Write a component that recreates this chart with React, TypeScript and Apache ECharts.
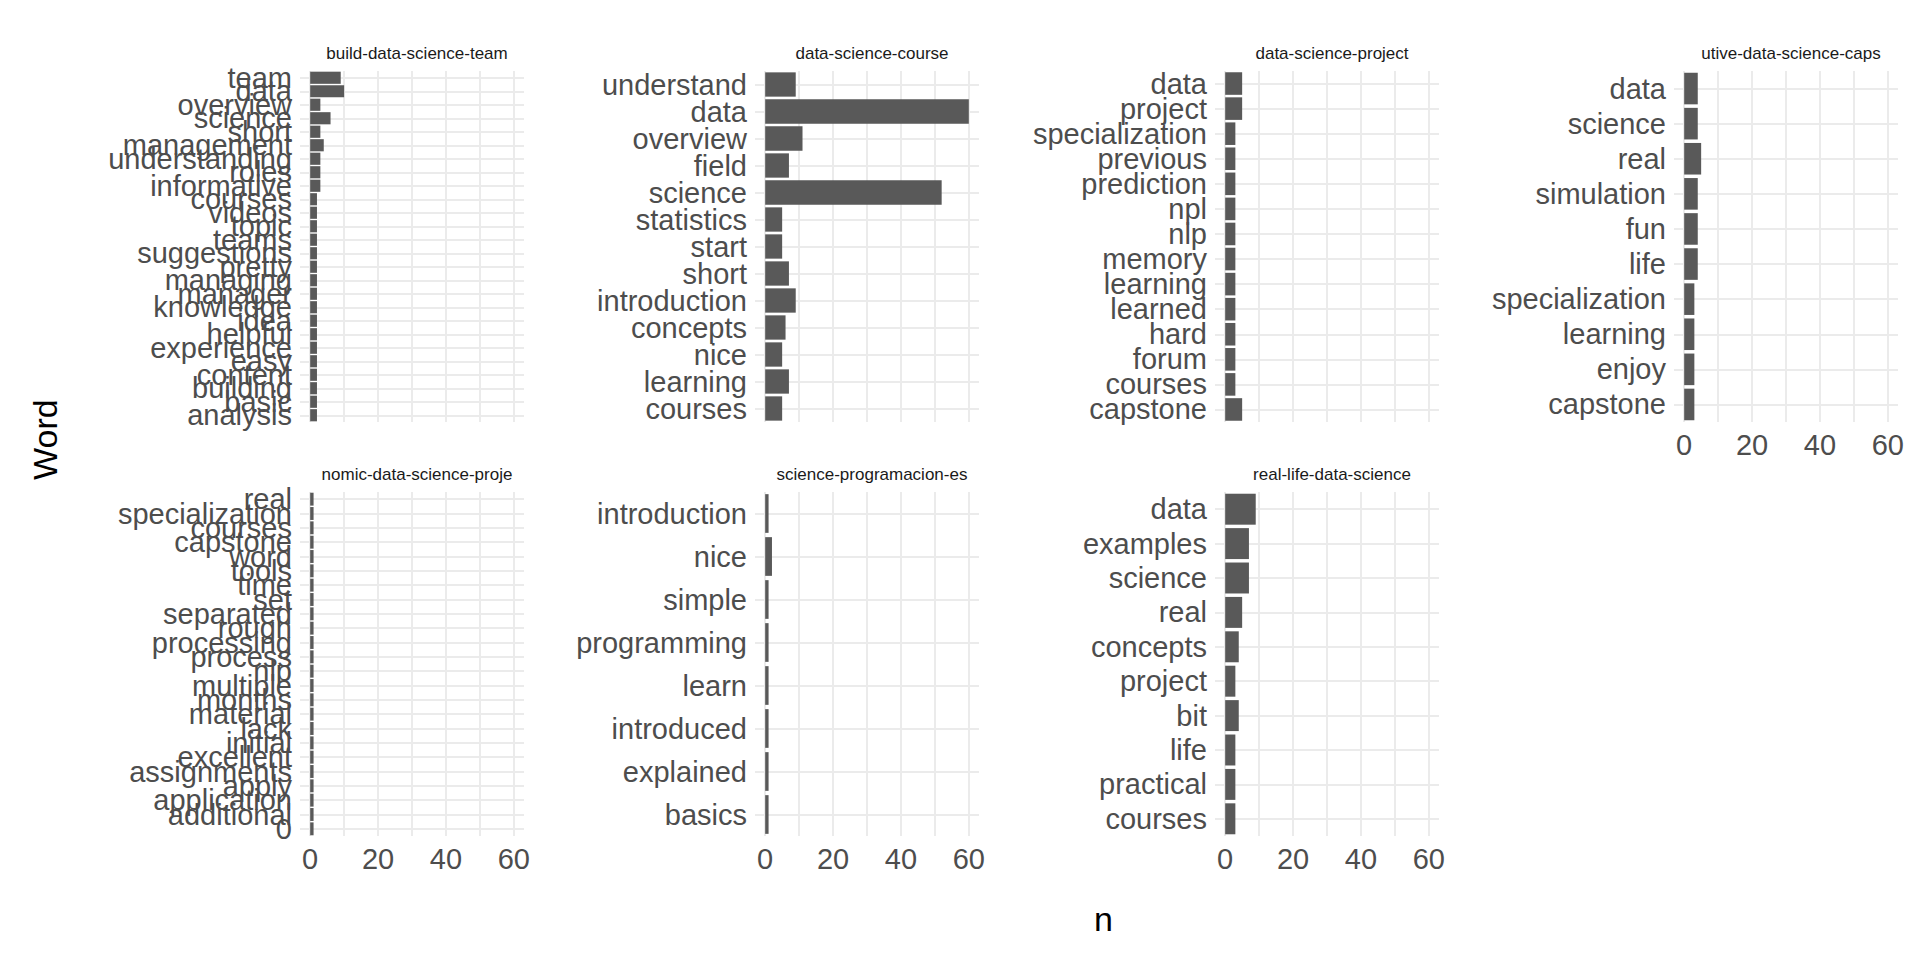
import { useEffect, useRef } from 'react';
import * as echarts from 'echarts';

const panelTitles = [
  'build-data-science-team',
  'data-science-course',
  'data-science-project',
  'utive-data-science-caps',
  'nomic-data-science-proje',
  'science-programacion-es',
  'real-life-data-science',
];

const words1 = ['team', 'data', 'overview', 'science', 'short', 'management', 'understanding', 'roles', 'informative', 'courses', 'videos', 'topic', 'teams', 'suggestions', 'pretty', 'managing', 'manager', 'knowledge', 'idea', 'helpful', 'experience', 'easy', 'content', 'building', 'basic', 'analysis'];
const counts1 = [9, 10, 3, 6, 3, 4, 3, 3, 3, 2, 2, 2, 2, 2, 2, 2, 2, 2, 2, 2, 2, 2, 2, 2, 2, 2];

const words2 = ['understand', 'data', 'overview', 'field', 'science', 'statistics', 'start', 'short', 'introduction', 'concepts', 'nice', 'learning', 'courses'];
const counts2 = [9, 60, 11, 7, 52, 5, 5, 7, 9, 6, 5, 7, 5];

const words3 = ['data', 'project', 'specialization', 'previous', 'prediction', 'npl', 'nlp', 'memory', 'learning', 'learned', 'hard', 'forum', 'courses', 'capstone'];
const counts3 = [5, 5, 3, 3, 3, 3, 3, 3, 3, 3, 3, 3, 3, 5];

const words4 = ['data', 'science', 'real', 'simulation', 'fun', 'life', 'specialization', 'learning', 'enjoy', 'capstone'];
const counts4 = [4, 4, 5, 4, 4, 4, 3, 3, 3, 3];

const words5 = ['real', 'specialization', 'courses', 'capstone', 'word', 'tools', 'time', 'set', 'separated', 'rough', 'processing', 'process', 'nlp', 'multiple', 'months', 'material', 'lack', 'initial', 'excellent', 'assignments', 'apply', 'application', 'additional', '0'];
const counts5 = [1, 1, 1, 1, 1, 1, 1, 1, 1, 1, 1, 1, 1, 1, 1, 1, 1, 1, 1, 1, 1, 1, 1, 1];

const words6 = ['introduction', 'nice', 'simple', 'programming', 'learn', 'introduced', 'explained', 'basics'];
const counts6 = [1, 2, 1, 1, 1, 1, 1, 1];

const words7 = ['data', 'examples', 'science', 'real', 'concepts', 'project', 'bit', 'life', 'practical', 'courses'];
const counts7 = [9, 7, 7, 5, 4, 3, 4, 3, 3, 3];

const xTicks = [0, 10, 20, 30, 40, 50, 60];
const xLabels = [0, 20, 40, 60];

const panels = [
  [words1, counts1], [words2, counts2], [words3, counts3], [words4, counts4],
  [words5, counts5], [words6, counts6], [words7, counts7],
] as [string[], number[]][];

const colLefts = [292, 747, 1207, 1666];
const rowTops = [63, 484];
const panelW = 224;
const rowH = [351, 344];
const grey = '#4d4d4d';
const lineCol = '#ebebeb';

export default function App() {
  const ref = useRef<HTMLDivElement>(null);

  useEffect(() => {
    if (!ref.current) return;
    const chart = echarts.init(ref.current, null, { renderer: 'svg' });
    const grid: any[] = [];
    const xAxis: any[] = [];
    const yAxis: any[] = [];
    const series: any[] = [];
    const title: any[] = [];

    panels.forEach(([words, counts], i) => {
      const r = Math.floor(i / 4);
      const c = i % 4;
      const left = colLefts[c];
      const top = rowTops[r];
      const showX = r === 1 || c === 3;
      grid.push({ left, top, width: panelW, height: rowH[r], containLabel: false });
      title.push({
        text: panelTitles[i],
        left: left + panelW / 2,
        top: top - 31,
        textAlign: 'center',
        textStyle: { fontSize: 17, fontWeight: 'normal', color: '#1a1a1a', fontFamily: 'Liberation Sans' },
      });
      xAxis.push({
        type: 'value',
        gridIndex: i,
        min: -3,
        max: 63,
        axisLine: { show: false },
        axisTick: { show: false, customValues: xTicks },
        splitLine: { show: true, lineStyle: { color: lineCol, width: 2 } },
        axisLabel: {
          show: showX,
          customValues: xLabels,
          fontSize: 29,
          color: grey,
          margin: 8,
          fontFamily: 'Liberation Sans',
        },
      });
      yAxis.push({
        type: 'category',
        gridIndex: i,
        data: words,
        inverse: true,
        axisLine: { show: false },
        axisTick: { show: false, alignWithLabel: true },
        splitLine: { show: true, alignWithLabel: true, interval: 0, lineStyle: { color: lineCol, width: 2 } },
        axisLabel: { interval: 0, fontSize: 29, color: grey, margin: 8, fontFamily: 'Liberation Sans' },
      });
      series.push({
        type: 'bar',
        xAxisIndex: i,
        yAxisIndex: i,
        data: counts,
        barCategoryGap: '10%',
        itemStyle: { color: '#595959' },
      });
    });

    chart.setOption({
      animation: false,
      title,
      grid,
      xAxis,
      yAxis,
      series,
      graphic: [
        {
          type: 'text',
          left: 1086,
          top: 894,
          style: { text: 'n', fontSize: 34, fill: '#000', fontFamily: 'Liberation Sans' },
        },
        {
          type: 'text',
          x: 20,
          y: 472,
          rotation: Math.PI / 2,
          style: { text: 'Word', fontSize: 34, fill: '#000', fontFamily: 'Liberation Sans' },
        },
      ],
    });
    return () => chart.dispose();
  }, []);

  return <div ref={ref} style={{ width: 1904, height: 944 }} />;
}
